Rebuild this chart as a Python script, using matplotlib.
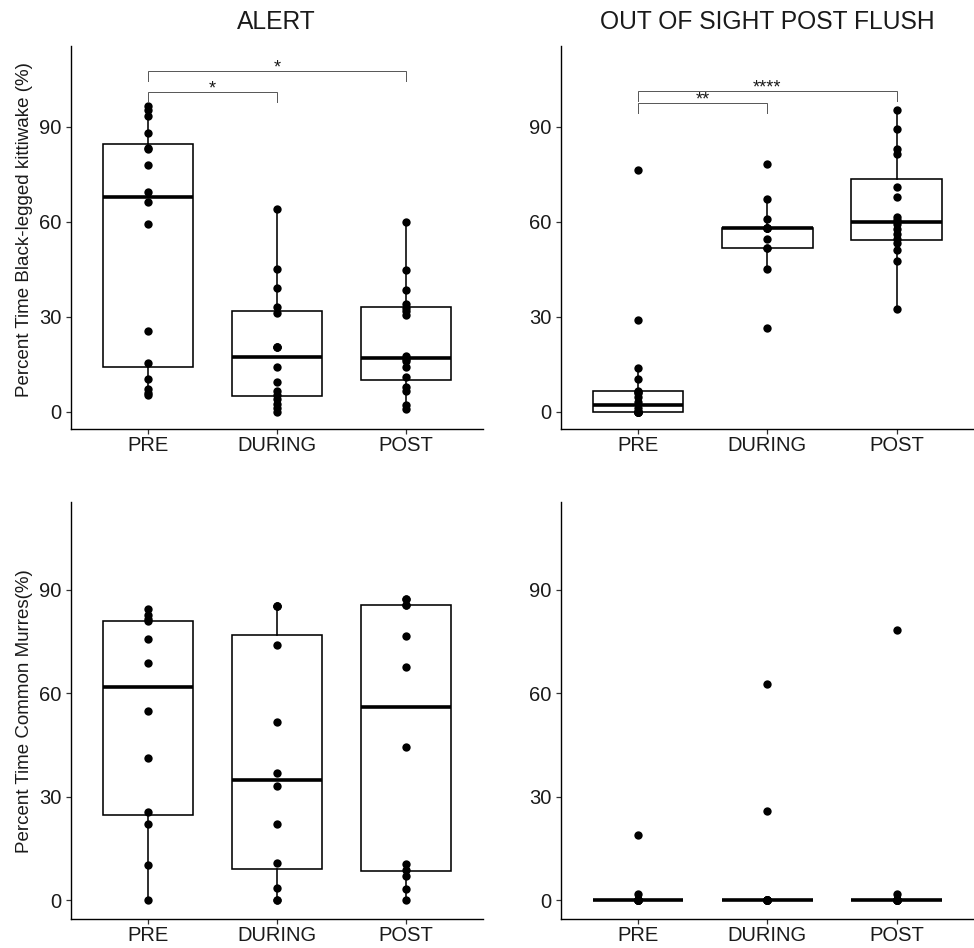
import matplotlib
matplotlib.use("Agg")
import matplotlib.pyplot as plt
import numpy as np

plt.rcParams['font.family'] = ['Liberation Sans', 'DejaVu Sans']

# ---------------- data ----------------
categories = ["PRE", "DURING", "POST"]
panel_titles = ["ALERT", "OUT OF SIGHT POST FLUSH"]
row_ylabels = ["Percent Time Black-legged kittiwake (%)", "Percent Time Common Murres(%)"]
yticks = [0, 30, 60, 90]

# Black-legged kittiwake, ALERT
kitti_alert_pre = [5.3, 6.0, 7.0, 10.2, 15.4, 25.5, 59.3, 66.1, 69.5, 77.9, 82.9, 83.3, 88.1, 93.4, 95.2, 96.7]
kitti_alert_during = [0.0, 1.1, 2.4, 3.9, 5.3, 6.6, 9.4, 14.2, 20.5, 20.5, 20.5, 31.3, 33.1, 39.0, 45.2, 64.0]
kitti_alert_post = [0.8, 2.1, 6.6, 7.9, 10.8, 14.2, 16.0, 16.5, 17.5, 30.6, 31.8, 32.8, 34.1, 38.5, 44.6, 59.9]

# Black-legged kittiwake, OUT OF SIGHT POST FLUSH
kitti_oos_pre = [0, 0, 0, 0, 0, 0, 0, 0, 1.2, 3.1, 4.5, 5.8, 6.3, 6.5, 10.3, 13.7, 28.9, 76.3]
kitti_oos_during = [26.5, 45.2, 51.6, 51.6, 54.6, 57.9, 57.9, 57.9, 57.9, 57.9, 60.9, 67.2, 78.1]
kitti_oos_post = [32.3, 47.7, 50.9, 53.2, 54.6, 56.1, 57.7, 59.3, 60.5, 61.4, 67.7, 70.8, 81.5, 83.1, 89.2, 95.3]

# Common murres, ALERT
murre_alert_pre = [0.0, 10.2, 22.2, 25.7, 41.2, 55.0, 68.8, 75.7, 80.9, 81.5, 82.8, 84.5]
murre_alert_during = [0.0, 0.0, 3.5, 10.8, 22.0, 33.1, 36.9, 51.6, 74.0, 85.2, 85.2, 85.2]
murre_alert_post = [0.0, 3.4, 7.1, 8.8, 10.5, 44.6, 67.7, 76.7, 85.5, 85.5, 87.4, 87.4]

# Common murres, OUT OF SIGHT POST FLUSH
murre_oos_pre = [0, 0, 0, 0, 0, 0, 0, 0, 0, 0, 1.7, 18.9]
murre_oos_during = [0, 0, 0, 0, 0, 0, 0, 0, 0, 0, 25.8, 62.8]
murre_oos_post = [0, 0, 0, 0, 0, 0, 0, 0, 0, 0, 1.7, 78.5]

# significance brackets: (group_a, group_b, label)
sig_alert = [(1, 2, "*"), (1, 3, "*")]
sig_alert_y = [101.1, 107.6]
sig_oos = [(1, 2, "**"), (1, 3, "****")]
sig_oos_y = [97.6, 101.3]

panels = [
    [[kitti_alert_pre, kitti_alert_during, kitti_alert_post],
     [kitti_oos_pre, kitti_oos_during, kitti_oos_post]],
    [[murre_alert_pre, murre_alert_during, murre_alert_post],
     [murre_oos_pre, murre_oos_during, murre_oos_post]],
]

# ---------------- layout ----------------
W, H = 974, 948
fig = plt.figure(figsize=(W / 100, H / 100), dpi=100)


def pos(l, r, t, b):
    return [l / W, 1 - b / H, (r - l) / W, (b - t) / H]


rects = [
    [pos(70.6, 483, 46, 429), pos(560.8, 974, 46, 429)],
    [pos(70.6, 483, 502, 919.3), pos(560.8, 974, 502, 919.3)],
]

TXT = "#1a1a1a"
x = np.arange(1, 4)

for r in range(2):
    for c in range(2):
        ax = fig.add_axes(rects[r][c])
        data = panels[r][c]
        ax.boxplot(data, positions=x, widths=0.7, whis=1.5, showfliers=False,
                   showcaps=False, patch_artist=True,
                   boxprops=dict(facecolor="white", edgecolor="black", linewidth=1.15),
                   medianprops=dict(color="black", linewidth=2.6, solid_capstyle="butt"),
                   whiskerprops=dict(color="black", linewidth=1.15),
                   zorder=2)
        for i, vals in enumerate(data):
            ax.scatter(np.full(len(vals), x[i]), vals, s=36, color="black",
                       linewidths=0, zorder=3)
        ax.set_xlim(0.4, 3.6)
        ax.set_ylim(-5.5, 115.5)
        ax.set_xticks(x)
        ax.set_xticklabels(categories)
        ax.set_yticks(yticks)
        for s in ["top", "right"]:
            ax.spines[s].set_visible(False)
        for s in ["left", "bottom"]:
            ax.spines[s].set_linewidth(1.0)
            ax.spines[s].set_color("black")
        ax.tick_params(axis="both", length=3.6, width=0.9, color="#333333",
                       labelsize=14.5, labelcolor=TXT)
        ax.tick_params(axis="x", pad=1.5)
        ax.tick_params(axis="y", pad=3)
        if c == 0:
            ax.set_ylabel(row_ylabels[r], fontsize=13.5, color=TXT)
            ax.yaxis.set_label_coords(-0.091, 0.5 if r == 1 else 0.52)
        if r == 0:
            ax.set_title(panel_titles[c], fontsize=17.7, color=TXT, pad=12)
            sigs = sig_alert if c == 0 else sig_oos
            sig_y = sig_alert_y if c == 0 else sig_oos_y
            for (a, b, lab), yy in zip(sigs, sig_y):
                ax.plot([a, a, b, b], [yy - 3.2, yy, yy, yy - 3.2], color="#555555",
                        linewidth=0.7, zorder=4, solid_joinstyle="miter")
                ax.text((a + b) / 2, yy - 0.6, lab, ha="center", va="baseline",
                        fontsize=13, color=TXT)

fig.savefig("out.png", dpi=100)
